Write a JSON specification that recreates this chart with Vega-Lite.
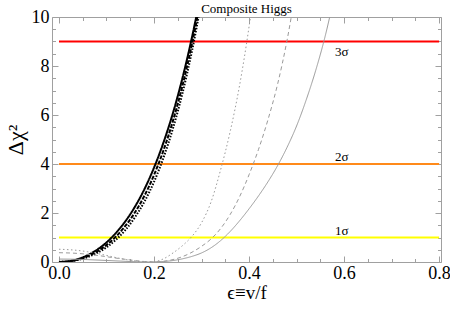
{
  "$schema": "https://vega.github.io/schema/vega-lite/v6.json",
  "autosize": "none",
  "padding": {"left": 52, "top": 17, "right": 9, "bottom": 48},
  "width": 389,
  "height": 245,
  "config": {
    "view": {"stroke": "#a0a0a0", "strokeWidth": 1},
    "axis": {"grid": false, "domain": false, "tickColor": "#a0a0a0", "tickWidth": 1, "labelFlush": false, "labelOverlap": false,
             "labelFont": "Liberation Serif, Times New Roman, serif", "titleFont": "Liberation Serif, Times New Roman, serif", "labelColor": "#000", "titleColor": "#000", "titleFontWeight": "normal"}
  },
  "title": {"text": "Composite Higgs", "font": "Liberation Serif, Times New Roman, serif", "fontSize": 13, "fontWeight": "normal", "anchor": "middle", "color": "#000", "offset": -8},
  "datasets": {
    "sig": [
      {"sig": "1σ", "v": 1, "xs": 0, "xe": 0.8, "lx": 0.595},
      {"sig": "2σ", "v": 4, "xs": 0, "xe": 0.8, "lx": 0.595},
      {"sig": "3σ", "v": 9, "xs": 0, "xe": 0.8, "lx": 0.595}
    ],
    "black": [
      {"c": "bs", "x": 0, "y": 0}, {"c": "bs", "x": 0.02, "y": 0.03}, {"c": "bs", "x": 0.04, "y": 0.12}, {"c": "bs", "x": 0.06, "y": 0.275},
      {"c": "bs", "x": 0.08, "y": 0.5}, {"c": "bs", "x": 0.10, "y": 0.8}, {"c": "bs", "x": 0.12, "y": 1.19}, {"c": "bs", "x": 0.14, "y": 1.67},
      {"c": "bs", "x": 0.16, "y": 2.26}, {"c": "bs", "x": 0.18, "y": 2.98}, {"c": "bs", "x": 0.20, "y": 3.85}, {"c": "bs", "x": 0.22, "y": 4.88},
      {"c": "bs", "x": 0.24, "y": 6.09}, {"c": "bs", "x": 0.26, "y": 7.52}, {"c": "bs", "x": 0.28, "y": 9.18}, {"c": "bs", "x": 0.30, "y": 11.1},
      {"c": "bd", "x": 0, "y": 0}, {"c": "bd", "x": 0.02, "y": 0.025}, {"c": "bd", "x": 0.04, "y": 0.10}, {"c": "bd", "x": 0.06, "y": 0.235},
      {"c": "bd", "x": 0.08, "y": 0.43}, {"c": "bd", "x": 0.10, "y": 0.69}, {"c": "bd", "x": 0.12, "y": 1.04}, {"c": "bd", "x": 0.14, "y": 1.48},
      {"c": "bd", "x": 0.16, "y": 2.03}, {"c": "bd", "x": 0.18, "y": 2.71}, {"c": "bd", "x": 0.20, "y": 3.55}, {"c": "bd", "x": 0.22, "y": 4.56},
      {"c": "bd", "x": 0.24, "y": 5.77}, {"c": "bd", "x": 0.26, "y": 7.21}, {"c": "bd", "x": 0.28, "y": 8.91}, {"c": "bd", "x": 0.30, "y": 10.9},
      {"c": "bt", "x": 0, "y": 0}, {"c": "bt", "x": 0.02, "y": 0.021}, {"c": "bt", "x": 0.04, "y": 0.086}, {"c": "bt", "x": 0.06, "y": 0.2},
      {"c": "bt", "x": 0.08, "y": 0.37}, {"c": "bt", "x": 0.10, "y": 0.6}, {"c": "bt", "x": 0.12, "y": 0.91}, {"c": "bt", "x": 0.14, "y": 1.31},
      {"c": "bt", "x": 0.16, "y": 1.83}, {"c": "bt", "x": 0.18, "y": 2.47}, {"c": "bt", "x": 0.20, "y": 3.27}, {"c": "bt", "x": 0.22, "y": 4.26},
      {"c": "bt", "x": 0.24, "y": 5.46}, {"c": "bt", "x": 0.26, "y": 6.9}, {"c": "bt", "x": 0.28, "y": 8.62}, {"c": "bt", "x": 0.30, "y": 10.66}
    ],
    "gray": [
      {"c": "gt", "x": 0, "y": 0.52}, {"c": "gt", "x": 0.03, "y": 0.49}, {"c": "gt", "x": 0.06, "y": 0.42}, {"c": "gt", "x": 0.09, "y": 0.31},
      {"c": "gt", "x": 0.12, "y": 0.18}, {"c": "gt", "x": 0.15, "y": 0.07}, {"c": "gt", "x": 0.17, "y": 0.02}, {"c": "gt", "x": 0.19, "y": 0.0},
      {"c": "gt", "x": 0.20, "y": 0.01}, {"c": "gt", "x": 0.22, "y": 0.13}, {"c": "gt", "x": 0.24, "y": 0.37}, {"c": "gt", "x": 0.26, "y": 0.67},
      {"c": "gt", "x": 0.28, "y": 1.05}, {"c": "gt", "x": 0.30, "y": 1.6}, {"c": "gt", "x": 0.32, "y": 2.45}, {"c": "gt", "x": 0.34, "y": 3.75},
      {"c": "gt", "x": 0.36, "y": 5.3}, {"c": "gt", "x": 0.38, "y": 7.2}, {"c": "gt", "x": 0.40, "y": 9.6}, {"c": "gt", "x": 0.42, "y": 12.5},
      {"c": "gd", "x": 0, "y": 0.38}, {"c": "gd", "x": 0.04, "y": 0.35}, {"c": "gd", "x": 0.08, "y": 0.27}, {"c": "gd", "x": 0.12, "y": 0.16},
      {"c": "gd", "x": 0.16, "y": 0.06}, {"c": "gd", "x": 0.18, "y": 0.02}, {"c": "gd", "x": 0.20, "y": 0.0}, {"c": "gd", "x": 0.22, "y": 0.03},
      {"c": "gd", "x": 0.24, "y": 0.1}, {"c": "gd", "x": 0.26, "y": 0.22}, {"c": "gd", "x": 0.28, "y": 0.4}, {"c": "gd", "x": 0.30, "y": 0.64},
      {"c": "gd", "x": 0.32, "y": 0.94}, {"c": "gd", "x": 0.34, "y": 1.36}, {"c": "gd", "x": 0.36, "y": 1.93}, {"c": "gd", "x": 0.38, "y": 2.66},
      {"c": "gd", "x": 0.40, "y": 3.56}, {"c": "gd", "x": 0.42, "y": 4.6}, {"c": "gd", "x": 0.44, "y": 5.82}, {"c": "gd", "x": 0.46, "y": 7.25},
      {"c": "gd", "x": 0.48, "y": 9.05}, {"c": "gd", "x": 0.50, "y": 11.3},
      {"c": "gs", "x": 0, "y": 0.12}, {"c": "gs", "x": 0.04, "y": 0.11}, {"c": "gs", "x": 0.08, "y": 0.08}, {"c": "gs", "x": 0.12, "y": 0.045},
      {"c": "gs", "x": 0.16, "y": 0.012}, {"c": "gs", "x": 0.19, "y": 0.0}, {"c": "gs", "x": 0.22, "y": 0.02}, {"c": "gs", "x": 0.24, "y": 0.06},
      {"c": "gs", "x": 0.26, "y": 0.13}, {"c": "gs", "x": 0.28, "y": 0.23}, {"c": "gs", "x": 0.30, "y": 0.37}, {"c": "gs", "x": 0.32, "y": 0.58},
      {"c": "gs", "x": 0.34, "y": 0.87}, {"c": "gs", "x": 0.36, "y": 1.24}, {"c": "gs", "x": 0.38, "y": 1.68}, {"c": "gs", "x": 0.40, "y": 2.17},
      {"c": "gs", "x": 0.42, "y": 2.7}, {"c": "gs", "x": 0.44, "y": 3.28}, {"c": "gs", "x": 0.46, "y": 3.93}, {"c": "gs", "x": 0.48, "y": 4.68},
      {"c": "gs", "x": 0.50, "y": 5.55}, {"c": "gs", "x": 0.52, "y": 6.6}, {"c": "gs", "x": 0.54, "y": 7.8}, {"c": "gs", "x": 0.56, "y": 9.2},
      {"c": "gs", "x": 0.58, "y": 10.9}
    ]
  },
  "layer": [
    {
      "data": {"name": "sig"},
      "mark": {"type": "rule", "strokeWidth": 2},
      "encoding": {
        "x": {"field": "xs", "type": "quantitative", "scale": {"domain": [-0.0147, 0.804], "nice": false, "zero": false},
              "axis": {"orient": "bottom", "values": [0, 0.2, 0.4, 0.6, 0.8], "format": ".1f", "tickSize": -6, "labelPadding": 8,
                       "labelFontSize": 18, "title": "ϵ≡v/f", "titleFontSize": 19, "titlePadding": 1}},
        "x2": {"field": "xe"},
        "y": {"field": "v", "type": "quantitative", "scale": {"domain": [0, 10], "nice": false, "zero": false},
              "axis": {"orient": "left", "values": [0, 2, 4, 6, 8, 10], "tickSize": -6, "labelPadding": 9,
                       "labelFontSize": 18, "title": "Δχ²", "titleFontSize": 22, "titlePadding": 4}},
        "color": {"field": "sig", "type": "nominal", "scale": {"domain": ["1σ", "2σ", "3σ"], "range": ["#ffff00", "#ff8a1a", "#ff0000"]}, "legend": null}
      }
    },
    {
      "data": {"name": "black"},
      "mark": {"type": "line", "clip": true, "interpolate": "monotone", "color": "#000000"},
      "encoding": {
        "x": {"field": "x", "type": "quantitative",
              "axis": {"orient": "bottom", "values": [0.05, 0.1, 0.15, 0.25, 0.3, 0.35, 0.45, 0.5, 0.55, 0.65, 0.7, 0.75], "labels": false, "tickSize": -3.5, "title": null}},
        "y": {"field": "y", "type": "quantitative",
              "axis": {"orient": "left", "values": [0.5, 1, 1.5, 2.5, 3, 3.5, 4.5, 5, 5.5, 6.5, 7, 7.5, 8.5, 9, 9.5], "labels": false, "tickSize": -3.5, "title": null}},
        "strokeDash": {"field": "c", "type": "nominal", "scale": {"domain": ["bs", "bd", "bt"], "range": [[1, 0], [4, 1.5], [1.5, 1.5]]}, "legend": null},
        "strokeWidth": {"value": 2}
      }
    },
    {
      "data": {"name": "gray"},
      "mark": {"type": "line", "clip": true, "interpolate": "monotone", "color": "#9a9a9a"},
      "encoding": {
        "x": {"field": "x", "type": "quantitative",
              "axis": {"orient": "top", "values": [0, 0.2, 0.4, 0.6, 0.8], "labels": false, "tickSize": -6, "title": null}},
        "y": {"field": "y", "type": "quantitative",
              "axis": {"orient": "right", "values": [0, 2, 4, 6, 8, 10], "labels": false, "tickSize": -6, "title": null}},
        "strokeDash": {"field": "c", "type": "nominal", "scale": {"domain": ["gt", "gd", "gs"], "range": [[1.5, 2.5], [4, 3], [1, 0]]}, "legend": null},
        "strokeWidth": {"value": 1}
      }
    },
    {
      "data": {"name": "sig"},
      "transform": [{"filter": "datum.v < 9"}],
      "mark": {"type": "text", "font": "Liberation Serif, Times New Roman, serif", "fontSize": 13, "baseline": "alphabetic", "dy": -3, "color": "#000"},
      "encoding": {
        "x": {"field": "lx", "type": "quantitative",
              "axis": {"orient": "top", "values": [0.05, 0.1, 0.15, 0.25, 0.3, 0.35, 0.45, 0.5, 0.55, 0.65, 0.7, 0.75], "labels": false, "tickSize": -3.5, "title": null}},
        "y": {"field": "v", "type": "quantitative",
              "axis": {"orient": "right", "values": [0.5, 1, 1.5, 2.5, 3, 3.5, 4.5, 5, 5.5, 6.5, 7, 7.5, 8.5, 9, 9.5], "labels": false, "tickSize": -3.5, "title": null}},
        "text": {"field": "sig"}
      }
    },
    {
      "data": {"name": "sig"},
      "transform": [{"filter": "datum.v >= 9"}],
      "mark": {"type": "text", "font": "Liberation Serif, Times New Roman, serif", "fontSize": 13, "baseline": "alphabetic", "dy": 14, "color": "#000"},
      "encoding": {
        "x": {"field": "lx", "type": "quantitative", "axis": null},
        "y": {"field": "v", "type": "quantitative", "axis": null},
        "text": {"field": "sig"}
      }
    }
  ],
  "resolve": {
    "scale": {"strokeDash": "independent", "color": "independent"},
    "axis": {"x": "independent", "y": "independent"}
  }
}
